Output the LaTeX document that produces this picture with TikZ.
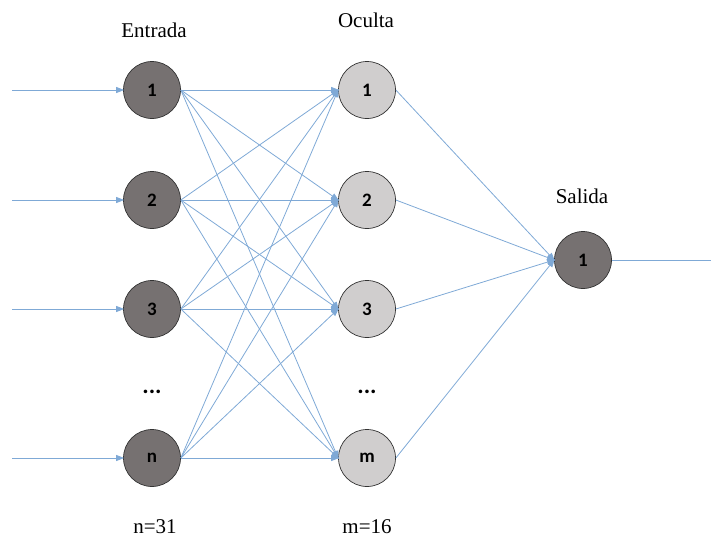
\documentclass[tikz,border=0pt]{standalone}
\usepackage{fontspec}
\setmainfont{Liberation Serif}
\newfontfamily\nodefont{Carlito}
\usetikzlibrary{arrows.meta}
\definecolor{edgec}{HTML}{7FA9D6}
\definecolor{darkn}{HTML}{767171}
\definecolor{lightn}{HTML}{D0CECE}
\tikzset{
  neuron/.style={circle, draw=black!80, line width=0.7pt, minimum size=57pt, inner sep=0pt, font=\nodefont\bfseries\fontsize{19}{19}\selectfont},
  inn/.style={neuron, fill=darkn},
  hid/.style={neuron, fill=lightn},
  conn/.style={draw=edgec, line width=0.8pt, -{Triangle[length=8pt,width=6pt]}, shorten >=-1pt},
  lbl/.style={font=\fontsize{21}{21}\selectfont},
  dots/.style={font=\nodefont\bfseries\fontsize{24}{24}\selectfont}
}
\begin{document}
\begin{tikzpicture}[x=1pt,y=-1pt]
\useasboundingbox (0,0) rectangle (711,541);
\node[inn] (i1) at (152,90) {1};
\node[inn] (i2) at (152,200) {2};
\node[inn] (i3) at (152,309) {3};
\node[inn] (in) at (152,458) {n};
\node[hid] (h1) at (367,90) {1};
\node[hid] (h2) at (367,200) {2};
\node[hid] (h3) at (367,309) {3};
\node[hid] (hm) at (367,458) {m};
\node[inn] (o1) at (583,260) {1};
\coordinate (s1) at (12,90);
\coordinate (s2) at (12,200);
\coordinate (s3) at (12,309);
\coordinate (sn) at (12,458);
\coordinate (e1) at (711,260);
\foreach \a in {1,2,3,n} { \draw[conn] (s\a) -- (i\a.west); }
\foreach \a in {1,2,3,n} { \foreach \b in {1,2,3,m} { \draw[conn] (i\a.east) -- (h\b.west); } }
\foreach \b in {1,2,3,m} { \draw[conn] (h\b.east) -- (o1.west); }
\draw[draw=edgec, line width=0.8pt] (o1.east) -- (e1);
\node[lbl] (l1) at (154,30) {Entrada};
\node[lbl] (l2) at (366,20) {Oculta};
\node[lbl] (l3) at (582,196) {Salida};
\node[lbl] (l4) at (155,527) {n=31};
\node[lbl] (l5) at (367,527) {m=16};
\node[dots] (d1) at (152,392) {...};
\node[dots] (d2) at (367,392) {...};
\end{tikzpicture}
\end{document}
